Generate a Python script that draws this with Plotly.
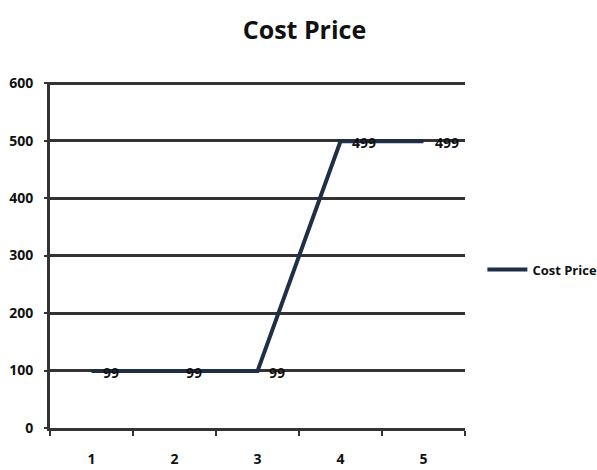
import plotly.graph_objects as go

categories = ["1", "2", "3", "4", "5"]
cost_price = [99, 99, 99, 499, 499]
series_name = "Cost Price"
y_ticks = [0, 100, 200, 300, 400, 500, 600]

font_family = "Open Sans"
dark = "#1f2f45"
grid = "#333333"

fig = go.Figure()
fig.add_trace(go.Scatter(
    x=categories, y=cost_price, mode="lines", name=series_name,
    line=dict(color=dark, width=4),
))
for i, v in enumerate(cost_price):
    fig.add_annotation(
        x=i, y=v, text=f"<b>{v}</b>", showarrow=False,
        xanchor="left", yanchor="middle", xshift=9, yshift=-1,
        font=dict(family=font_family, size=14, color="#111111"),
    )

fig.update_layout(
    width=597, height=470,
    margin=dict(l=50, r=132, t=82, b=42, autoexpand=False),
    paper_bgcolor="white", plot_bgcolor="white",
    title=dict(text="<b>Cost Price</b>", x=0.51, xref="container", xanchor="center",
               y=0.935, yref="container", yanchor="middle",
               font=dict(family=font_family, size=25, color="#111111")),
    showlegend=True,
    legend=dict(x=0.808, xref="container", y=0.458, xanchor="left", yanchor="middle",
                font=dict(family=font_family, size=13, color="#111111", weight="bold"),
                itemwidth=40, bgcolor="rgba(0,0,0,0)"),
    font=dict(family=font_family),
)
fig.update_xaxes(
    type="category", range=[-0.5, 4.5], tickson="boundaries",
    ticks="outside", ticklen=5, tickwidth=2, tickcolor=grid,
    showline=True, linecolor=grid, linewidth=3, showgrid=False,
    ticklabelstandoff=16,
    tickfont=dict(family=font_family, size=14, color="#111111", weight="bold"),
)
fig.update_yaxes(
    range=[0, 602], tickvals=y_ticks, ticks="outside", ticklen=3, tickwidth=2,
    tickcolor=grid, showline=True, linecolor=grid, linewidth=3,
    showgrid=True, gridcolor=grid, gridwidth=3, zeroline=False,
    ticklabelstandoff=8,
    tickfont=dict(family=font_family, size=14, color="#111111", weight="bold"),
)
fig.write_html("out.html")
